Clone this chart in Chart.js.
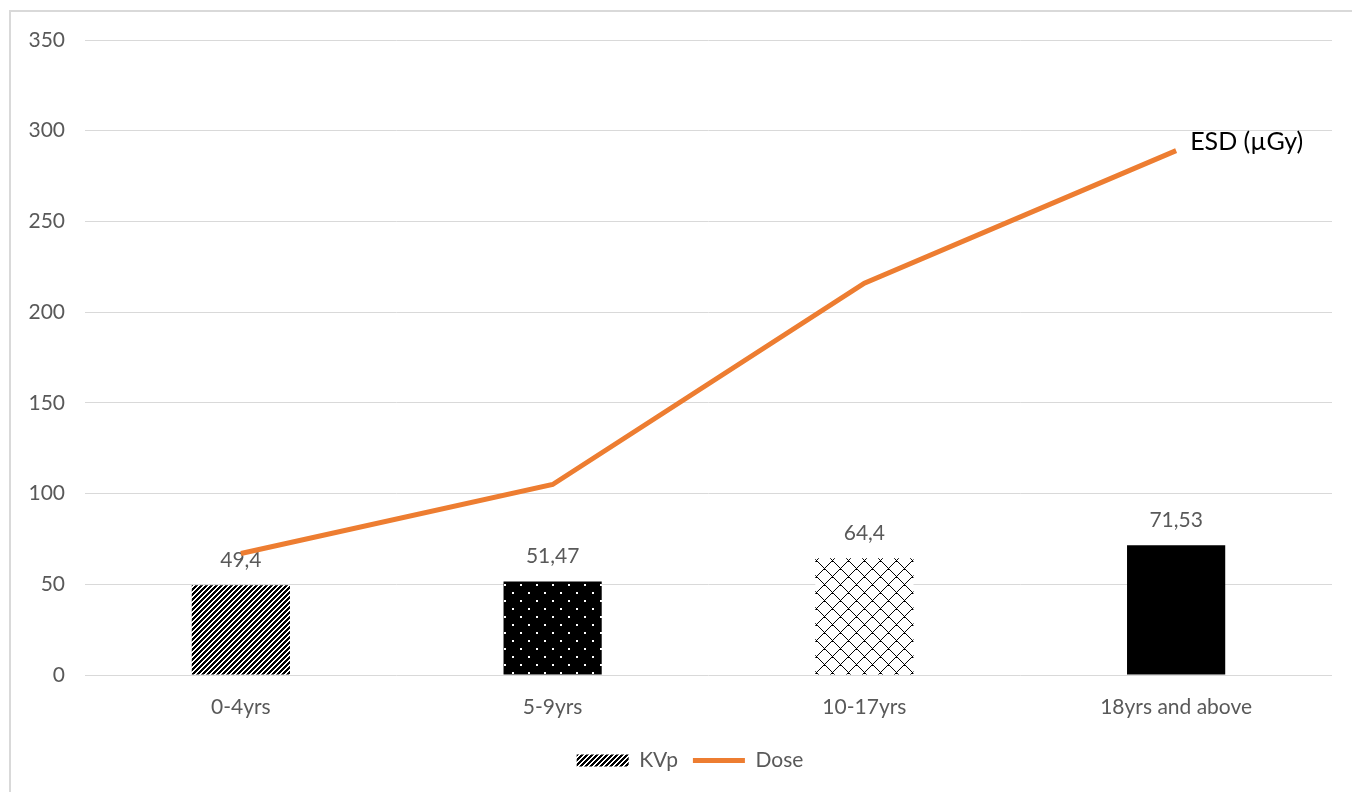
<!DOCTYPE html>
<html>
<head>
<meta charset="utf-8">
<script src="https://cdn.jsdelivr.net/npm/chart.js@4"></script>
<style>
  html, body { margin: 0; padding: 0; background: #fff; overflow: hidden; }
  #frame { position: absolute; left: 9px; top: 10px; width: 1400px; height: 800px; border-left: 2px solid #d9d9d9; border-top: 2px solid #d9d9d9; }
  #wrap { position: absolute; left: 0; top: 0; width: 1352px; height: 792px; }
</style>
</head>
<body>
<div id="frame"></div>
<div id="wrap"><canvas id="chart"></canvas></div>
<script>
const ageGroups = ['0-4yrs', '5-9yrs', '10-17yrs', '18yrs and above'];
const kvpValues = [49.4, 51.47, 64.4, 71.53];
const doseValues = [67, 105, 216, 289];
const yMin = 0;
const yMax = 350;
const yStep = 50;
const doseTag = 'ESD (µGy)';

const canvas = document.getElementById('chart');
const ctx = canvas.getContext('2d');

// small pixel tiles for the excel-like fills
function makePattern(size, test, bg, fg) {
    const tile = document.createElement('canvas');
    tile.width = size;
    tile.height = size;
    const g = tile.getContext('2d');
    g.fillStyle = bg;
    g.fillRect(0, 0, size, size);
    g.fillStyle = fg;
    for (let y = 0; y < size; y++) {
        for (let x = 0; x < size; x++) {
            if (test(x, y)) g.fillRect(x, y, 1, 1);
        }
    }
    return ctx.createPattern(tile, 'repeat');
}

const stripes = makePattern(5, (x, y) => (x + y) % 5 < 3, '#ffffff', '#000000');
const dots = makePattern(16, (x, y) => (x < 2 && y < 2) || (x >= 8 && x < 10 && y >= 8 && y < 10), '#000000', '#ffffff');
const diamonds = makePattern(16, (x, y) => (x - y + 16) % 16 === 0 || (x + y) % 16 === 0
    || (x - y + 17) % 16 === 0 && (x + y) % 16 < 2, '#ffffff', '#000000');

const orange = '#ed7d31';
const grey = '#595959';

const barLabels = {
    id: 'barLabels',
    afterDatasetDraw(chart, args) {
        if (args.index !== 0) return;
        const c = chart.ctx;
        c.save();
        c.font = '21px Lato';
        c.fillStyle = grey;
        c.textAlign = 'center';
        c.textBaseline = 'middle';
        args.meta.data.forEach((bar, i) => {
            c.fillText(String(kvpValues[i]).replace('.', ','), bar.x, bar.y - 25);
        });
        c.restore();
    }
};

const lineTag = {
    id: 'lineTag',
    afterDatasetsDraw(chart) {
        const pts = chart.getDatasetMeta(1).data;
        const last = pts[pts.length - 1];
        const c = chart.ctx;
        c.save();
        c.font = '25px Lato';
        c.fillStyle = '#000000';
        c.textAlign = 'left';
        c.textBaseline = 'middle';
        c.fillText(doseTag, last.x + 14, last.y - 9);
        c.restore();
    }
};

// legend in the original sits a bit right of the canvas centre
const legendShift = {
    id: 'legendShift',
    beforeDraw(chart) {
        chart.legend.left += 24;
        chart.legend.right += 24;
    }
};

new Chart(ctx, {
    type: 'bar',
    data: {
        labels: ageGroups,
        datasets: [{
            label: 'KVp',
            data: kvpValues,
            backgroundColor: [stripes, dots, diamonds, '#000000'],
            borderWidth: 0,
            barPercentage: 0.315,
            categoryPercentage: 1,
            order: 1
        }, {
            type: 'line',
            label: 'Dose',
            data: doseValues,
            borderColor: orange,
            backgroundColor: orange,
            borderWidth: 5,
            pointRadius: 0,
            tension: 0,
            order: 0
        }]
    },
    options: {
        responsive: true,
        maintainAspectRatio: false,
        animation: false,
        layout: {
            padding: { top: 40, right: 20, bottom: 11, left: 0 }
        },
        scales: {
            x: {
                grid: { display: false },
                border: { display: false },
                ticks: { color: grey, font: { family: 'Lato', size: 21 }, padding: 12 },
                afterFit: scale => { scale.height = 60; }
            },
            y: {
                min: yMin,
                max: yMax,
                ticks: { stepSize: yStep, color: grey, font: { family: 'Lato', size: 21 }, padding: 20 },
                grid: { color: '#d9d9d9', drawTicks: false },
                border: { display: false },
                afterFit: scale => { scale.width = 85; }
            }
        },
        plugins: {
            tooltip: { enabled: false },
            legend: {
                position: 'bottom',
                labels: {
                    color: grey,
                    font: { family: 'Lato', size: 21 },
                    usePointStyle: true,
                    pointStyleWidth: 52,
                    boxHeight: 12,
                    padding: 15,
                    generateLabels: chart => {
                        const items = Chart.defaults.plugins.legend.labels.generateLabels(chart);
                        items.sort((a, b) => a.datasetIndex - b.datasetIndex);
                        items.forEach(item => {
                            if (item.datasetIndex === 0) {
                                item.fillStyle = stripes;
                                item.strokeStyle = stripes;
                                item.lineWidth = 0;
                                item.pointStyle = 'rect';
                            } else {
                                item.fillStyle = orange;
                                item.strokeStyle = orange;
                                item.lineWidth = 5;
                                item.pointStyle = 'line';
                            }
                        });
                        return items;
                    }
                }
            }
        }
    },
    plugins: [barLabels, lineTag, legendShift]
});
</script>
</body>
</html>
